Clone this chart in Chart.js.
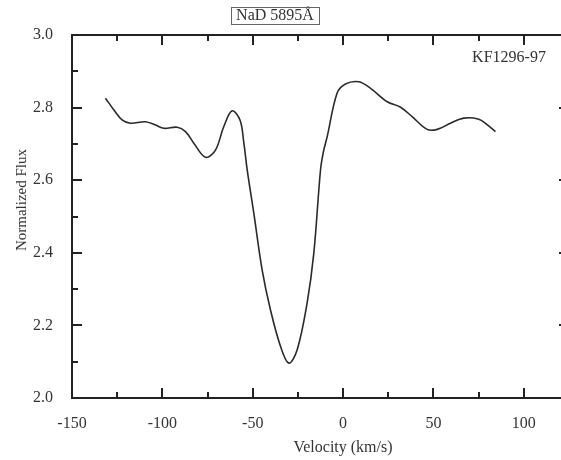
<!DOCTYPE html>
<html>
<head>
<meta charset="utf-8">
<script src="https://cdn.jsdelivr.net/npm/chart.js@4/dist/chart.umd.min.js"></script>
<style>
  body { margin: 0; background: #fff; overflow: hidden; }
  #wrap { width: 561px; height: 460px; overflow: hidden; }
</style>
</head>
<body>
<div id="wrap"><canvas id="myChart" width="575" height="460"></canvas></div>
<script>
// spectrum
const velocity = [-131.5, -126.9, -122.3, -117.7, -109.4, -103.8, -99.2, -91.8, -87.2, -82.6,
  -76.1, -70.6, -66.0, -61.4, -57.0, -54.9, -53.1, -49.4, -44.8, -40.2,
  -34.6, -30.0, -25.4, -19.9, -16.2, -12.5, -10.9, -8.8, -3.3, 1.3, 8.7,
  15.2, 24.4, 31.8, 38.2, 46.5, 52.1, 59.4, 66.8, 75.1, 80.0, 84.3];
const flux = [2.826, 2.794, 2.766, 2.757, 2.761, 2.752, 2.743, 2.746, 2.734, 2.702,
  2.663, 2.683, 2.748, 2.791, 2.765, 2.702, 2.630, 2.509, 2.353, 2.243,
  2.142, 2.096, 2.133, 2.262, 2.399, 2.628, 2.678, 2.720, 2.840, 2.865, 2.871,
  2.853, 2.816, 2.801, 2.775, 2.740, 2.740, 2.757, 2.771, 2.768, 2.752, 2.734];

const xMin = -150, xMax = 125, xStep = 50;
const yMin = 2.0, yMax = 3.0, yStep = 0.2;

const title = "NaD 5895Å";
const starName = "KF1296-97";
const xTitle = "Velocity (km/s)";
const yTitle = "Normalized Flux";

const ink = "#222";
const textColor = "#333";
const serif = "'Liberation Serif', 'DejaVu Serif', serif";

// frame, inward ticks and the texts
const framePlugin = {
  id: "frame",
  afterDraw(chart) {
    const ctx = chart.ctx;
    const { left, right, top, bottom } = chart.chartArea;
    const xs = chart.scales.x;
    const ys = chart.scales.y;
    ctx.save();
    ctx.strokeStyle = ink;
    ctx.lineWidth = 2;

    // top and right lines
    ctx.beginPath();
    ctx.moveTo(left - 1, top);
    ctx.lineTo(right, top);
    ctx.lineTo(right, bottom);
    ctx.stroke();

    // x ticks, major every 50, minor every 25
    for (let v = xMin; v <= xMax + 0.001; v += xStep / 2) {
      const px = Math.round(xs.getPixelForValue(v));
      const major = Math.abs(v % xStep) < 0.001;
      const len = major ? 10 : 6;
      ctx.beginPath();
      ctx.moveTo(px, bottom);
      ctx.lineTo(px, bottom - len);
      ctx.moveTo(px, top);
      ctx.lineTo(px, top + len);
      ctx.stroke();
    }
    // y ticks, major every 0.2, minor every 0.1
    for (let i = 0; i <= 10; i++) {
      const v = yMin + i * 0.1;
      const py = Math.round(ys.getPixelForValue(v));
      const len = i % 2 === 0 ? 10 : 6;
      ctx.beginPath();
      ctx.moveTo(left, py);
      ctx.lineTo(left + len, py);
      ctx.moveTo(right, py);
      ctx.lineTo(right - len, py);
      ctx.stroke();
    }

    ctx.fillStyle = textColor;
    ctx.font = "16px " + serif;
    ctx.textAlign = "center";
    ctx.textBaseline = "middle";

    // boxed title
    ctx.fillText(title, 275, 16);
    const w = ctx.measureText(title).width;
    ctx.lineWidth = 1;
    ctx.strokeStyle = "#666";
    ctx.strokeRect(Math.round(275 - w / 2 - 5) + 0.5, 7.5, Math.round(w + 10), 17);

    ctx.fillText(starName, 509, 58);
    ctx.fillText(xTitle, 343, 448);

    ctx.translate(22, 200);
    ctx.rotate(-Math.PI / 2);
    ctx.font = "15px " + serif;
    ctx.fillText(yTitle, 0, 0);
    ctx.restore();
  }
};

const config = {
  type: "line",
  data: {
    datasets: [{
      data: velocity.map((v, i) => ({ x: v, y: flux[i] })),
      borderColor: "#2a2a2a",
      borderWidth: 1.6,
      pointRadius: 0,
      fill: false,
      tension: 0.35,
    }],
  },
  options: {
    responsive: false,
    animation: false,
    layout: { padding: { left: 0, top: 35, right: 6, bottom: 0 } },
    plugins: {
      legend: { display: false },
      tooltip: { enabled: false },
    },
    scales: {
      x: {
        type: "linear",
        min: xMin,
        max: xMax,
        afterFit: (scale) => { scale.height = 62; },
        grid: { display: false, drawTicks: false },
        border: { display: true, color: ink, width: 2 },
        ticks: {
          stepSize: xStep,
          includeBounds: false,
          padding: 16,
          color: textColor,
          font: { family: serif, size: 16 },
          maxRotation: 0,
        },
      },
      y: {
        type: "linear",
        min: yMin,
        max: yMax,
        afterFit: (scale) => { scale.width = 72; },
        grid: { display: false, drawTicks: false },
        border: { display: true, color: ink, width: 2 },
        ticks: {
          stepSize: yStep,
          padding: 19,
          color: textColor,
          font: { family: serif, size: 16 },
          callback: (v) => v.toFixed(1),
        },
      },
    },
  },
  plugins: [framePlugin],
};

new Chart(document.getElementById("myChart"), config);
</script>
</body>
</html>
